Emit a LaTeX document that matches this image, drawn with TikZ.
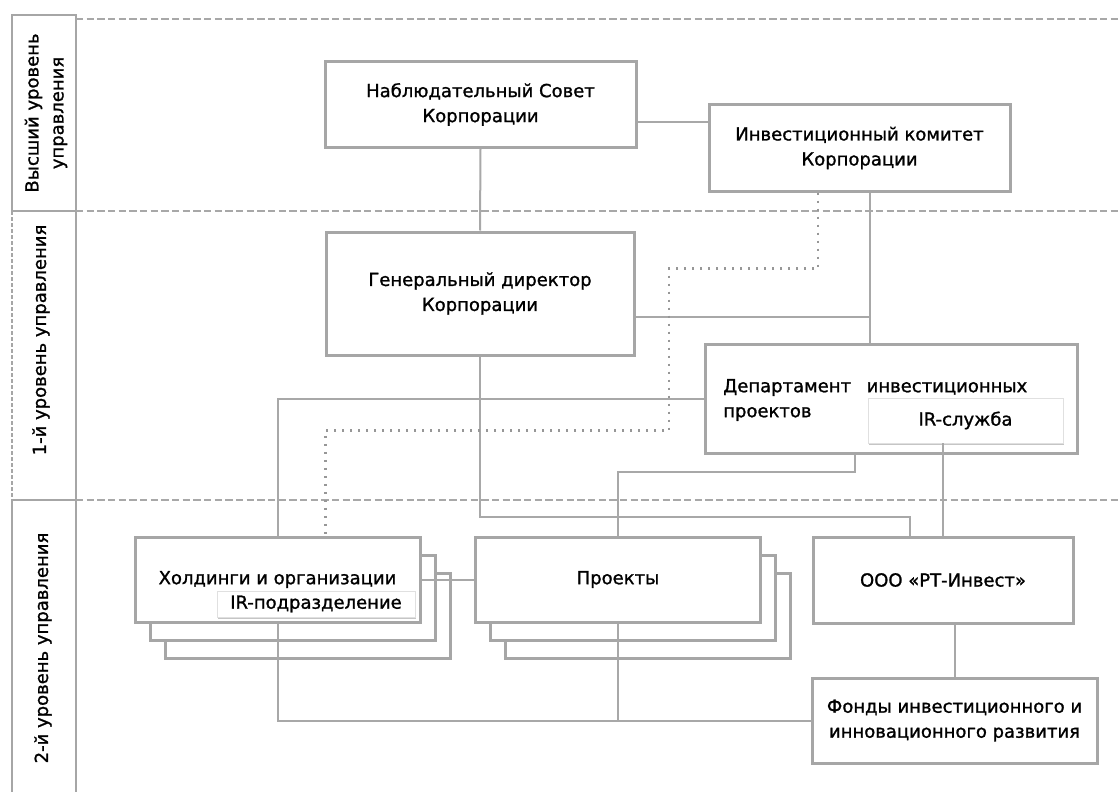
\documentclass[tikz,border=0pt]{standalone}
\usepackage{fontspec}
\setmainfont{DejaVu Sans}[FakeBold=1.2]
\usetikzlibrary{positioning,shadows}

\definecolor{boxgray}{HTML}{A6A6A6}
\definecolor{linegray}{HTML}{A8A8A8}

\begin{document}
\begin{tikzpicture}[x=0.75pt,y=-0.75pt,
 font=\fontsize{13.5}{18.75}\selectfont,
 unit/.style 2 args={draw=boxgray,line width=2.25pt,fill=white,align=center,inner sep=0pt,
   minimum width=#1*0.75pt,minimum height=#2*0.75pt},
 sub/.style 2 args={draw=black!12,line width=0.6pt,fill=white,inner sep=0pt,
   minimum width=#1*0.75pt,minimum height=#2*0.75pt,
   drop shadow={shadow xshift=1pt,shadow yshift=-1.5pt,opacity=0.45}},
 stack/.style={
   general shadow={shadow xshift=22.5pt,shadow yshift=-27pt,draw=boxgray,line width=2.25pt,fill=white},
   general shadow={shadow xshift=11.25pt,shadow yshift=-13.5pt,draw=boxgray,line width=2.25pt,fill=white}},
 link/.style={draw=linegray,line width=1.5pt},
 weak/.style={draw=linegray!90!black,line width=1.8pt,dash pattern=on 1.8pt off 4.2pt},
 level/.style={draw=linegray,line width=1.5pt,dash pattern=on 5.5pt off 2.5pt},
 lanebox/.style={draw=boxgray,line width=2pt},
 lane/.style={rotate=90,align=center,inner sep=0pt}]

 \fill[white] (0,0) rectangle (1118,792);
 \useasboundingbox (0,0) rectangle (1118,792);

 % levels
 \draw[lanebox] (12,211) |- (76,15) -- (76,792);
 \draw[lanebox] (12,211) -- (76,211) (12,500) -- (76,500) (12,500) -- (12,792);
 \draw[draw=boxgray,line width=1pt,dash pattern=on 3pt off 1.5pt] (12,211) -- (12,500);
 \draw[level] (76,19) -- (1118,19);
 \draw[level] (76,211) -- (1118,211);
 \draw[level] (76,500) -- (1118,500);

 \node[lane] (L1) at (46,113) {Высший уровень\\управления};
 \node[lane] (L2) at (41,340) {1-й уровень управления};
 \node[lane] (L3) at (43,648) {2-й уровень управления};

 % units
 \node[unit={311}{85}] (NS) at (480.5,104.5) {Наблюдательный Совет\\Корпорации};
 \node[unit={301}{86}] (IK) at (859.5,148) {Инвестиционный комитет\\Корпорации};
 \node[unit={308}{123}] (GD) at (480,293.5) {Генеральный директор\\Корпорации};
 \node[unit={372}{109}] (DIP) at (891,398.5) {};
 \node[anchor=west,align=left,text width=228pt,inner sep=0pt] (DIPt) at (723,400)
   {Департамент\hfill инвестиционных\\проектов};
 \node[sub={195}{45}] (IRS) at (965.5,420.5) {IR-служба};
 \node[unit={285}{85},stack] (HO) at (277.5,579.5) {Холдинги и организации};
 \node[unit={285}{85},stack] (PR) at (618,579.5) {Проекты};
 \node[sub={198}{26}] (IRP) at (316,604) {IR-подразделение};
 \node[unit={260}{86}] (RT) at (943,580) {ООО «РТ-Инвест»};
 \node[unit={285}{85}] (FI) at (954.5,720.5) {Фонды инвестиционного и\\инновационного развития};

 % links
 \draw[link] (NS.south) -- (GD.north);
 \draw[link] (NS.east) ++(0,17.5) coordinate (a) -- (a -| IK.west);
 \draw[link] (IK.south) ++(10.5,0) coordinate (b) -- (b |- DIP.north);
 \draw[link] (GD.east) ++(0,23) coordinate (c) -- (c -| b);
 \draw[link] (DIP.west) -| (HO.north);
 \draw[link] (GD.south) -- ++(0,160) -| ([xshift=-24.75pt]RT.north);
 \draw[link] (IRS.south -| RT.north) -- (RT.north);
 \draw[link] ([xshift=-27pt]DIP.south) -- ++(0,17) -| (PR.north);
 \draw[link] (HO.east) -- (PR.west);
 \draw[link] (RT.south -| FI.north) -- (FI.north);
 \draw[link] (HO.south) |- (FI.west);
 \draw[link] (PR.south) -- (PR.south |- FI.west);
 \draw[weak] ([xshift=-31pt]IK.south) -- ++(0,76) -| ++(-149,162) -| ([xshift=36pt]HO.north);

\end{tikzpicture}
\end{document}
